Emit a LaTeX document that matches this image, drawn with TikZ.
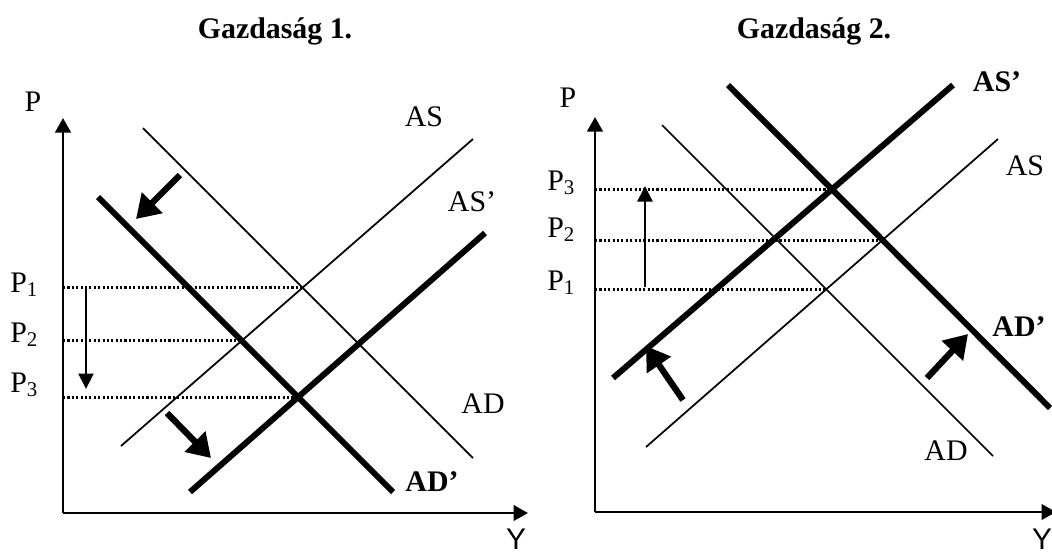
\documentclass[tikz,border=0pt]{standalone}
\usepackage{fontspec}
\setmainfont{Liberation Serif}
\newfontfamily\axisfont{Liberation Sans}
\usetikzlibrary{arrows.meta}

\begin{document}
\begin{tikzpicture}[
  x=0.02cm, y=-0.02cm,
  every node/.style={font=\fontsize{17}{20}\selectfont, inner sep=0pt},
  title/.style={font=\fontsize{17}{20}\selectfont\bfseries, anchor=base},
  ylab/.style={font=\fontsize{17}{20}\selectfont\axisfont, anchor=south},
  plab/.style={anchor=base west},
  axis/.style={line width=1.5pt, -{Triangle[length=0.29cm, width=0.31cm]}},
  curve/.style={line width=1pt},
  shifted/.style={line width=3.4pt},
  level/.style={line width=1.7pt, dash pattern=on 1.2pt off 1.3pt},
  move/.style={line width=1.2pt, -{Triangle[length=0.31cm, width=0.3cm]}},
  push/.style={line width=3.6pt, -{Triangle[length=0.46cm, width=0.56cm]}}
]
\useasboundingbox (0,0) rectangle (1052,556);

% Gazdasag 1
\node[title] (t1) at (275,38) {Gazdaság 1.};
\coordinate (o1) at (63,513);
\coordinate (ytop1) at (63,118);
\coordinate (xend1) at (528,513);
\draw[axis] (o1) -- (ytop1);
\draw[axis] (o1) -- (xend1);
\node (pax1) at (33,102) {P};
\node[ylab] (yax1) at (516,550) {Y};

\coordinate (as1a) at (121,446);  \coordinate (as1b) at (473,139);
\coordinate (ad1a) at (143,128);  \coordinate (ad1b) at (473,458);
\coordinate (adn1a) at (98,197);  \coordinate (adn1b) at (393,492);
\coordinate (asn1a) at (190,492); \coordinate (asn1b) at (485,233);
\draw[curve] (as1a) -- (as1b);
\draw[curve] (ad1a) -- (ad1b);
\draw[shifted] (adn1a) -- (adn1b);
\draw[shifted] (asn1a) -- (asn1b);
\node (las1) at (424,117) {AS};
\node (lasn1) at (472,202) {AS’};
\node (lad1) at (483,404) {AD};
\node[font=\fontsize{17}{20}\selectfont\bfseries] (ladn1) at (432,482) {AD’};

\coordinate (e11) at (intersection of as1a--as1b and ad1a--ad1b);
\coordinate (e12) at (intersection of as1a--as1b and adn1a--adn1b);
\coordinate (e13) at (intersection of asn1a--asn1b and adn1a--adn1b);
\draw[level] (o1 |- e11) -- (e11);
\draw[level] (o1 |- e12) -- (e12);
\draw[level] (o1 |- e13) -- (e13);
\node[plab] (p11) at (10,292) {P\textsubscript{1}};
\node[plab] (p12) at (10,342) {P\textsubscript{2}};
\node[plab] (p13) at (10,392) {P\textsubscript{3}};

\coordinate (m1a) at (86,287);
\coordinate (m1b) at (86,389);
\draw[move] (m1a) -- (m1b);
\coordinate (k1a) at (180,175);  \coordinate (k1b) at (136,219);
\coordinate (k2a) at (167,413);  \coordinate (k2b) at (211,458);
\draw[push] (k1a) -- (k1b);
\draw[push] (k2a) -- (k2b);

% Gazdasag 2
\node[title] (t2) at (814,38) {Gazdaság 2.};
\coordinate (o2) at (595,512);
\coordinate (ytop2) at (595,117);
\coordinate (xend2) at (1056,512);
\draw[axis] (o2) -- (ytop2);
\draw[axis] (o2) -- (xend2);
\node (pax2) at (568,98) {P};
\node[ylab] (yax2) at (1042,550) {Y};

\coordinate (as2a) at (646,447);  \coordinate (as2b) at (998,139);
\coordinate (ad2a) at (662,125);  \coordinate (ad2b) at (993,456);
\coordinate (asn2a) at (613,378); \coordinate (asn2b) at (953,85);
\coordinate (adn2a) at (728,85);  \coordinate (adn2b) at (1050,408);
\draw[curve] (as2a) -- (as2b);
\draw[curve] (ad2a) -- (ad2b);
\draw[shifted] (asn2a) -- (asn2b);
\draw[shifted] (adn2a) -- (adn2b);
\node[font=\fontsize{17}{20}\selectfont\bfseries] (lasn2) at (997,82) {AS’};
\node (las2) at (1025,166) {AS};
\node[font=\fontsize{17}{20}\selectfont\bfseries] (ladn2) at (1019,327) {AD’};
\node (lad2) at (946,451) {AD};

\coordinate (e21) at (intersection of as2a--as2b and ad2a--ad2b);
\coordinate (e22) at (intersection of as2a--as2b and adn2a--adn2b);
\coordinate (e23) at (intersection of asn2a--asn2b and adn2a--adn2b);
\draw[level] (o2 |- e21) -- (e21);
\draw[level] (o2 |- e22) -- (e22);
\draw[level] (o2 |- e23) -- (e23);
\node[plab] (p21) at (547,290) {P\textsubscript{1}};
\node[plab] (p22) at (547,237) {P\textsubscript{2}};
\node[plab] (p23) at (547,190) {P\textsubscript{3}};

\coordinate (m2a) at (645,287);
\coordinate (m2b) at (645,186);
\draw[move] (m2a) -- (m2b);
\coordinate (k3a) at (683,400);  \coordinate (k3b) at (646,346);
\coordinate (k4a) at (927,378);  \coordinate (k4b) at (968,334);
\draw[push] (k3a) -- (k3b);
\draw[push] (k4a) -- (k4b);
\end{tikzpicture}
\end{document}
